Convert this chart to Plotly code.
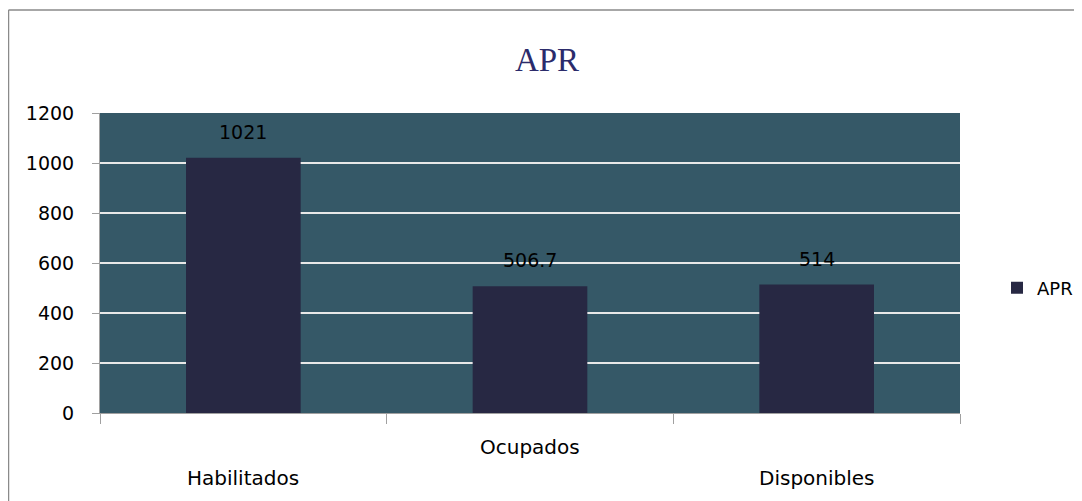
import plotly.graph_objects as go

categories = ["Habilitados", "Ocupados", "Disponibles"]
values = [1021, 506.7, 514]
value_labels = ["1021", "506.7", "514"]
label_rows = [1, 0, 1]  # 0 = upper row, 1 = lower row (staggered labels)
series_name = "APR"
y_ticks = [0, 200, 400, 600, 800, 1000, 1200]

OFF = 8  # page body margin
W, H = 1082 - OFF, 501 - OFF
L, T = 100 - OFF, 113 - OFF
R = W - (960 - OFF)
B = H - (413 - OFF)
pw, ph = W - L - R, H - T - B

def px_x(x):
    return (x - OFF - L) / pw

def px_y(y):
    return (H - B - (y - OFF)) / ph

FONT = "DejaVu Sans"
xs = list(range(len(categories)))

fig = go.Figure()
fig.add_trace(go.Bar(
    x=xs, y=values, name=series_name,
    marker=dict(color="#272843", line=dict(width=0)),
    width=0.4, showlegend=True,
))

for x, v, t in zip(xs, values, value_labels):
    fig.add_annotation(x=x, y=v, text=t, showarrow=False, yshift=26,
                       font=dict(family=FONT, size=19, color="#000000"))

for x, c, r in zip(xs, categories, label_rows):
    fig.add_annotation(x=x, xref="x", y=px_y(447 if r == 0 else 478), yref="paper",
                       text=c, showarrow=False, yanchor="middle",
                       font=dict(family=FONT, size=20, color="#000000"))

# outer border lines
fig.add_shape(type="line", xref="paper", yref="paper",
              x0=px_x(8.5), x1=px_x(1082), y0=px_y(10), y1=px_y(10),
              line=dict(color="#8a8a8a", width=1.5))
fig.add_shape(type="line", xref="paper", yref="paper",
              x0=px_x(8.5), x1=px_x(8.5), y0=px_y(10), y1=px_y(501),
              line=dict(color="#8a8a8a", width=1.5))

fig.update_layout(
    width=W, height=H,
    margin=dict(l=L, r=R, t=T, b=B, autoexpand=False),
    paper_bgcolor="#ffffff",
    plot_bgcolor="#355867",
    title=dict(text="APR", xref="paper", x=px_x(547), xanchor="center",
               y=1 - (59 - OFF) / H, yanchor="middle",
               font=dict(family="Liberation Serif", size=33, color="#2b2b6b")),
    font=dict(family=FONT, size=19, color="#000000"),
    bargap=0.6,
    legend=dict(x=px_x(997), y=px_y(288), xanchor="left", yanchor="middle",
                font=dict(family=FONT, size=18, color="#000000"),
                bgcolor="rgba(0,0,0,0)", itemsizing="constant"),
    xaxis=dict(range=[-0.5, 2.5], showticklabels=False,
               tickvals=[-0.5, 0.5, 1.5, 2.5], ticks="outside", ticklen=10,
               tickcolor="#a0a0a0", showgrid=False, zeroline=False,
               showline=True, linecolor="#a0a0a0", linewidth=1),
    yaxis=dict(range=[0, 1200], tickvals=y_ticks, ticks="outside", ticklen=7,
               tickcolor="#a0a0a0", showline=True, linecolor="#a0a0a0", linewidth=1,
               gridcolor="#e8e8e8", gridwidth=1.5, zeroline=False,
               ticklabelstandoff=14,
               tickfont=dict(family=FONT, size=19, color="#000000")),
)

fig.write_html("out.html")
